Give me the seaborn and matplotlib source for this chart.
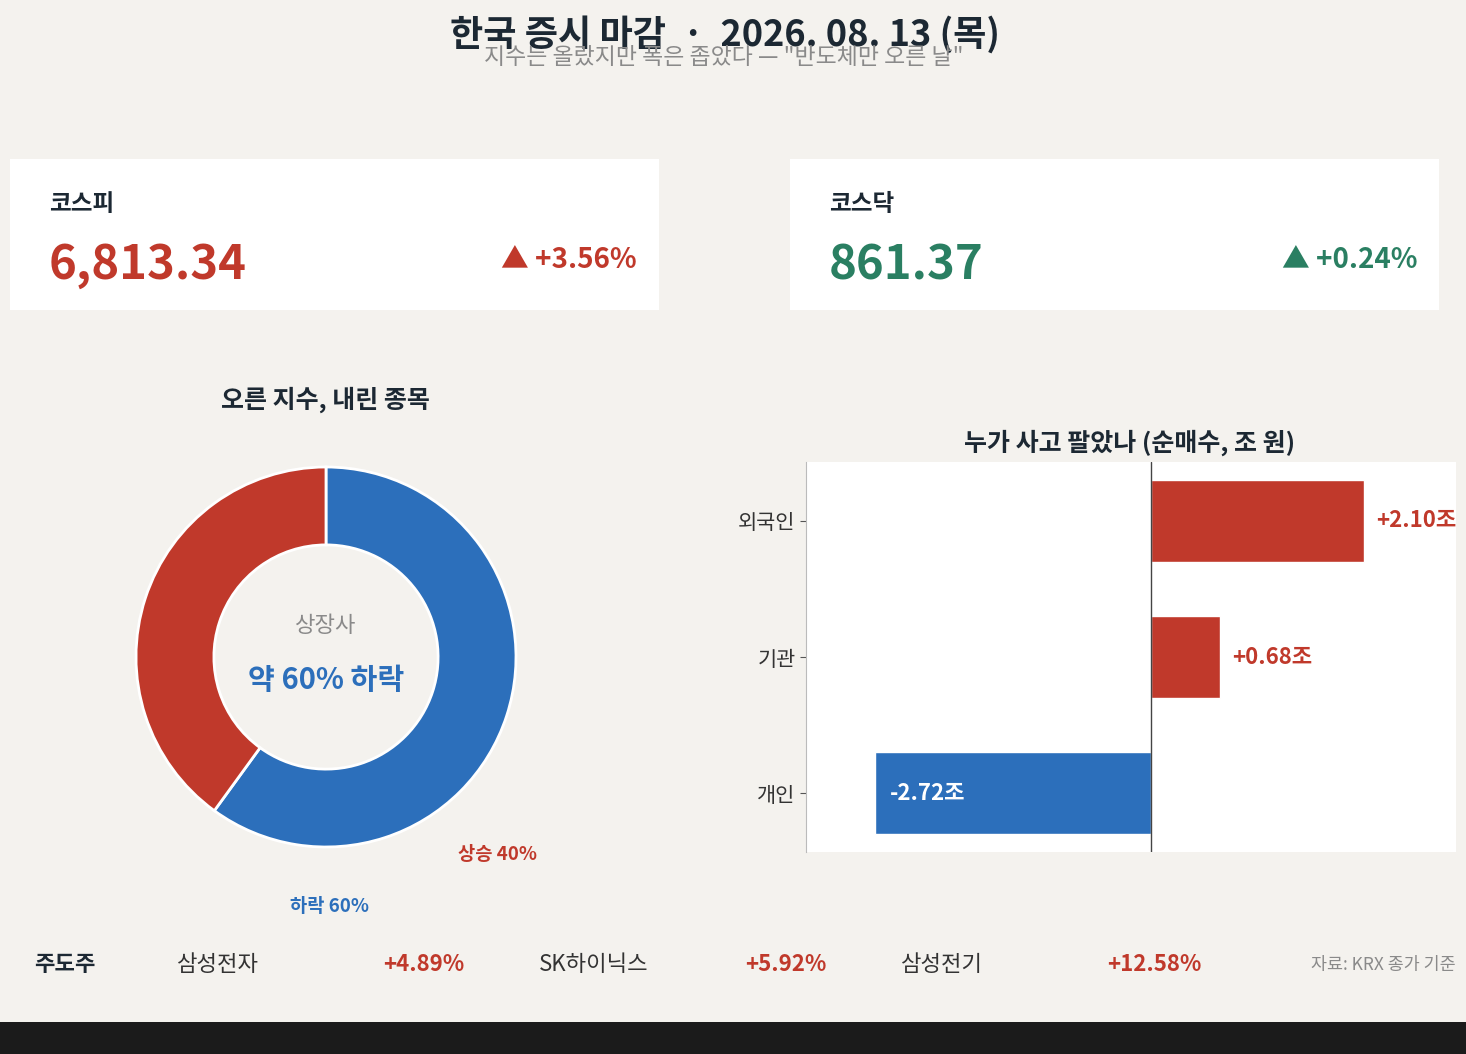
import matplotlib
matplotlib.use('Agg')
import matplotlib.pyplot as plt
from matplotlib.patches import Rectangle
import seaborn as sns

# data
index_names = ['코스피', '코스닥']
index_values = [6813.34, 861.37]
index_changes = [3.56, 0.24]

breadth_labels = ['하락', '상승']
breadth_pct = [60, 40]

investors = ['외국인', '기관', '개인']
net_buy = [2.10, 0.68, -2.72]

leaders = ['삼성전자', 'SK하이닉스', '삼성전기']
leader_changes = [4.89, 5.92, 12.58]

# colours
RED = '#c0392b'
BLUE = '#2c6fbb'
GREEN = '#2a7f62'
DARK = '#1c2833'
GRAY = '#8a8a8a'
BG = '#f4f2ee'

sns.set_theme(style='white')
plt.rcParams['font.family'] = ['Noto Sans CJK KR', 'DejaVu Sans']

W, H = 1466, 1054
fig = plt.figure(figsize=(W / 100, H / 100), dpi=100, facecolor=BG)


def fx(px):
    return px / W


def fy(py):
    return 1 - py / H


# title
fig.text(fx(725), fy(46), '한국 증시 마감  ·  2026. 08. 13 (목)', ha='center', va='baseline',
         fontsize=26, fontweight='bold', color=DARK)
fig.text(fx(724), fy(64), '지수는 올랐지만 폭은 좁았다 — "반도체만 오른 날"', ha='center', va='baseline',
         fontsize=16.5, color=GRAY)

# index cards
card_x = [10, 790]
card_colors = [RED, GREEN]
for i in range(2):
    x0 = card_x[i]
    fig.patches.append(Rectangle((fx(x0), fy(310)), fx(649), (310 - 159) / H,
                                 transform=fig.transFigure, facecolor='white', edgecolor='none'))
    fig.text(fx(x0 + 39), fy(211), index_names[i], ha='left', va='baseline',
             fontsize=17, fontweight='bold', color=DARK)
    fig.text(fx(x0 + 39), fy(279), f'{index_values[i]:,.2f}', ha='left', va='baseline',
             fontsize=34, fontweight='bold', color=card_colors[i])
    fig.text(fx(x0 + 627), fy(268), f'▲ {index_changes[i]:+.2f}%', ha='right', va='baseline',
             fontsize=20, fontweight='bold', color=card_colors[i])

# donut
cx, cy, half = 326, 657, 240
ax1 = fig.add_axes([fx(cx - half), fy(cy + half), 2 * half / W, 2 * half / H])
ax1.pie(breadth_pct, colors=[BLUE, RED], startangle=90, counterclock=False,
        wedgeprops=dict(width=0.41, edgecolor='white', linewidth=2))
lim = half / 190
ax1.set_xlim(-lim, lim)
ax1.set_ylim(-lim, lim)
ax1.set_aspect('equal')
ax1.axis('off')
ax1.text(0, 0.13, '상장사', ha='center', va='baseline', fontsize=16, color=GRAY)
ax1.text(0, -0.17, f'약 {breadth_pct[0]}% {breadth_labels[0]}', ha='center', va='baseline',
         fontsize=21, fontweight='bold', color=BLUE)
ax1.text(0.9, -1.07, f'{breadth_labels[1]} {breadth_pct[1]}%', ha='center', va='baseline',
         fontsize=13.5, fontweight='bold', color=RED)
ax1.text(0.016, -1.34, f'{breadth_labels[0]} {breadth_pct[0]}%', ha='center', va='baseline',
         fontsize=13.5, fontweight='bold', color=BLUE)
fig.text(fx(325), fy(408), '오른 지수, 내린 종목', ha='center', va='baseline',
         fontsize=18, fontweight='bold', color=DARK)

# net buying bars
ax2 = fig.add_axes([fx(806), fy(852), (1456 - 806) / W, (852 - 462) / H])
ax2.set_facecolor('white')
pal = {n: (RED if v > 0 else BLUE) for n, v in zip(investors, net_buy)}
sns.barplot(x=net_buy, y=investors, hue=investors, palette=pal, width=0.6,
            orient='h', legend=False, saturation=1, ax=ax2)
ax2.axvline(0, color='#444444', linewidth=1)
ax2.set_xlim(min(net_buy) * 1.25, max(net_buy) * 1.43)
ax2.set_ylim(2.43, -0.43)
ax2.set_xticks([])
ax2.set_xlabel('')
ax2.set_ylabel('')
for s in ['top', 'right', 'bottom']:
    ax2.spines[s].set_visible(False)
ax2.spines['left'].set_color('#bbbbbb')
ax2.spines['left'].set_linewidth(0.8)
ax2.tick_params(axis='y', left=True, length=4, width=0.8, color='#555555', labelsize=15,
                labelcolor='#333333')
pad = 0.12
for i, v in enumerate(net_buy):
    if v > 0:
        ax2.text(v + pad, i, f'{v:+.2f}조', ha='left', va='center',
                 fontsize=16, fontweight='bold', color=RED)
    else:
        ax2.text(v + 0.15, i, f'{v:.2f}조', ha='left', va='center',
                 fontsize=16, fontweight='bold', color='white')
fig.text(fx(1130), fy(451), '누가 사고 팔았나 (순매수, 조 원)', ha='center', va='baseline',
         fontsize=18, fontweight='bold', color=DARK)

# leading stocks row
fig.text(fx(34), fy(971), '주도주', ha='left', va='baseline', fontsize=16,
         fontweight='bold', color=DARK)
for i, (name, chg) in enumerate(zip(leaders, leader_changes)):
    x0 = 177 + 362 * i
    fig.text(fx(x0), fy(971), name, ha='left', va='baseline', fontsize=16, color='#333333')
    fig.text(fx(x0 + 206), fy(971), f'{chg:+.2f}%', ha='left', va='baseline', fontsize=16,
             fontweight='bold', color=RED)
fig.text(fx(1456), fy(970), '자료: KRX 종가 기준', ha='right', va='baseline',
         fontsize=12.5, color=GRAY)

# dark strip at the bottom
fig.patches.append(Rectangle((0, 0), 1, 32 / H, transform=fig.transFigure,
                             facecolor='#1b1b1b', edgecolor='none'))

fig.savefig('out.png', dpi=100, facecolor=BG)
